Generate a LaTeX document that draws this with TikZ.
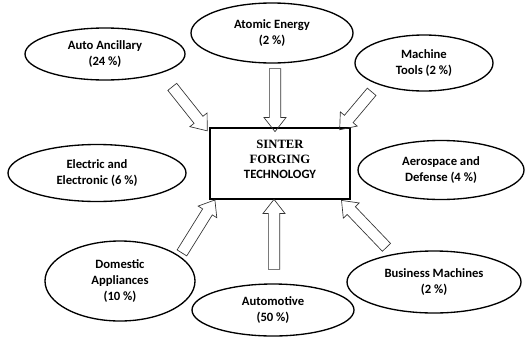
\documentclass[tikz,border=0pt]{standalone}
\usepackage{fontspec}
\setmainfont{Carlito}
\newfontfamily\serifbold{Liberation Serif}
\usetikzlibrary{shapes.geometric,shapes.arrows,calc}

\tikzset{every picture/.style={line width=0.75pt}}
\tikzset{
  sector/.style={draw, ellipse, line width=1pt, align=center, inner sep=0pt,
    font=\bfseries\fontsize{9.5}{12}\selectfont},
  core/.style={draw, line width=2pt, minimum width=105pt, minimum height=53.25pt, inner sep=0pt},
  flow/.style={draw=black!80, line width=0.5pt, single arrow, inner xsep=0pt, inner ysep=4pt,
    single arrow head extend=4pt, single arrow tip angle=76},
}
% hollow block arrow from tail #1 to tip #2
\newcommand{\flowarrow}[2]{%
  \path let \p1=(#1), \p2=(#2), \n1={atan2(\y2-\y1,\x2-\x1)}, \n2={veclen(\x2-\x1,\y2-\y1)}
    in node[flow, minimum height=\n2, rotate=-\n1] at ($(#1)!0.5!(#2)$) {};}

\begin{document}
\begin{tikzpicture}[x=0.75pt,y=0.75pt,yscale=-1,xscale=1]
\useasboundingbox (0,0) rectangle (527,336);

% Centre box
\node[core, label={[yshift=3pt, align=center, font=\fontsize{9.5}{11.25}\selectfont]center:{\serifbold\bfseries SINTER\\ \serifbold\bfseries FORGING\\ \bfseries TECHNOLOGY}}] (sft) at (280,163.5) {};

% Sectors
\node[sector, minimum width=120pt, minimum height=39pt] (auto) at (105,54) {Auto Ancillary\\(24 \%)};
\node[sector, minimum width=121.5pt, minimum height=45pt] (atomic) at (272,33) {Atomic Energy\\(2 \%)};
\node[sector, minimum width=103.5pt, minimum height=42pt] (machine) at (424,63) {Machine\\Tools (2 \%)};
\node[sector, minimum width=133.5pt, minimum height=42.75pt] (electric) at (97,173) {Electric and\\Electronic (6 \%)};
\node[sector, minimum width=124.5pt, minimum height=44.25pt] (aero) at (441,170) {Aerospace and\\Defense (4 \%)};
\node[sector, minimum width=112.5pt, minimum height=60pt] (domestic) at (120,281) {Domestic\\Appliances\\(10 \%)};
\node[sector, minimum width=121.5pt, minimum height=39pt] (automotive) at (273,310) {Automotive\\(50 \%)};
\node[sector, minimum width=130.5pt, minimum height=46.5pt] (business) at (434,282) {Business Machines\\(2 \%)};

% Arrow ends
\coordinate (auto-t) at (170,84);   \coordinate (auto-h) at (205,128);
\coordinate (atomic-t) at (275,65); \coordinate (atomic-h) at (275,128);
\coordinate (machine-t) at (374,89); \coordinate (machine-h) at (342,127);
\coordinate (domestic-t) at (180,256); \coordinate (domestic-h) at (213,203);
\coordinate (automotive-t) at (274,273); \coordinate (automotive-h) at (274,203);
\coordinate (business-t) at (389,250); \coordinate (business-h) at (344,203);

% Arrows
\flowarrow{auto-t}{auto-h}
\flowarrow{atomic-t}{atomic-h}
\flowarrow{machine-t}{machine-h}
\flowarrow{domestic-t}{domestic-h}
\flowarrow{automotive-t}{automotive-h}
\flowarrow{business-t}{business-h}

\end{tikzpicture}
\end{document}
